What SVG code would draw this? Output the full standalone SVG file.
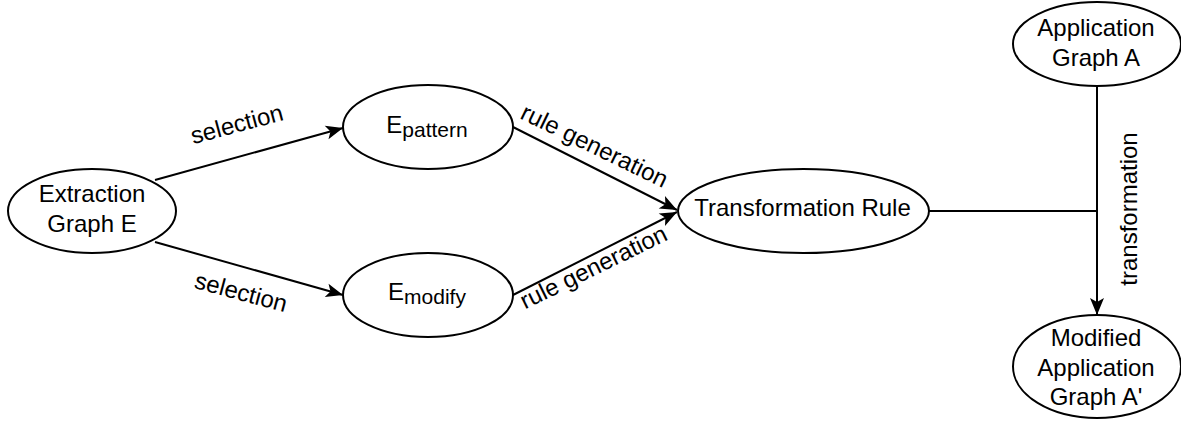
<svg xmlns="http://www.w3.org/2000/svg" width="1181" height="421" viewBox="0 0 1181 421">
  <style>
    .node { fill: #ffffff; stroke: #000000; stroke-width: 2; }
    .edge { fill: none; stroke: #000000; stroke-width: 2; }
    text { font-family: "Liberation Sans", Arial, Helvetica, sans-serif; font-size: 24px; fill: #000000; }
    .c { text-anchor: middle; }
    .sub { font-size: 21px; }
  </style>
  <defs>
    <marker id="arrow" markerUnits="userSpaceOnUse" markerWidth="20" markerHeight="16" viewBox="0 -8 18 16" refX="17" refY="0" orient="auto">
      <path d="M0,-7 L17,0 L0,7 L4,0 Z" fill="#000000"/>
    </marker>
  </defs>
  <rect width="1181" height="421" fill="#ffffff"/>

  <g id="connectors">
    <line class="edge" x1="155" y1="180" x2="343" y2="128" marker-end="url(#arrow)"/>
    <line class="edge" x1="155" y1="242" x2="343" y2="295" marker-end="url(#arrow)"/>
    <line class="edge" x1="513" y1="127" x2="677" y2="210" marker-end="url(#arrow)"/>
    <line class="edge" x1="513" y1="295" x2="677" y2="212" marker-end="url(#arrow)"/>
    <line class="edge" x1="929" y1="211" x2="1097" y2="211"/>
    <line class="edge" x1="1097" y1="86" x2="1097" y2="315" marker-end="url(#arrow)"/>
    <text class="c" transform="translate(239,132) rotate(-15)">selection</text>
    <text class="c" transform="translate(239,300) rotate(15)">selection</text>
    <text class="c" transform="translate(591,153) rotate(26)">rule generation</text>
    <text class="c" transform="translate(597,274.5) rotate(-26)">rule generation</text>
    <text class="c" transform="translate(1137,209) rotate(-90)">transformation</text>
  </g>

  <g id="extraction-graph">
    <ellipse class="node" cx="92" cy="211" rx="84" ry="42"/>
    <text class="c" x="92" y="201.5">Extraction</text>
    <text class="c" x="92" y="231.5">Graph E</text>
  </g>

  <g id="e-pattern">
    <ellipse class="node" cx="428" cy="127" rx="85" ry="42"/>
    <text class="c" x="427" y="133">E<tspan class="sub" dy="4">pattern</tspan></text>
  </g>

  <g id="e-modify">
    <ellipse class="node" cx="428" cy="295" rx="85" ry="42"/>
    <text class="c" x="427" y="300">E<tspan class="sub" dy="3.5">modify</tspan></text>
  </g>

  <g id="transformation-rule">
    <ellipse class="node" cx="803.5" cy="211" rx="125.5" ry="42"/>
    <text class="c" x="802.5" y="216">Transformation Rule</text>
  </g>

  <g id="application-graph">
    <ellipse class="node" cx="1097" cy="44" rx="84" ry="42"/>
    <text class="c" x="1096" y="35.5">Application</text>
    <text class="c" x="1096" y="66">Graph A</text>
  </g>

  <g id="modified-application-graph">
    <ellipse class="node" cx="1097" cy="366.5" rx="84" ry="51.5"/>
    <text class="c" x="1096" y="345.5">Modified</text>
    <text class="c" x="1096" y="375.5">Application</text>
    <text class="c" x="1096" y="404.5">Graph A'</text>
  </g>
</svg>
